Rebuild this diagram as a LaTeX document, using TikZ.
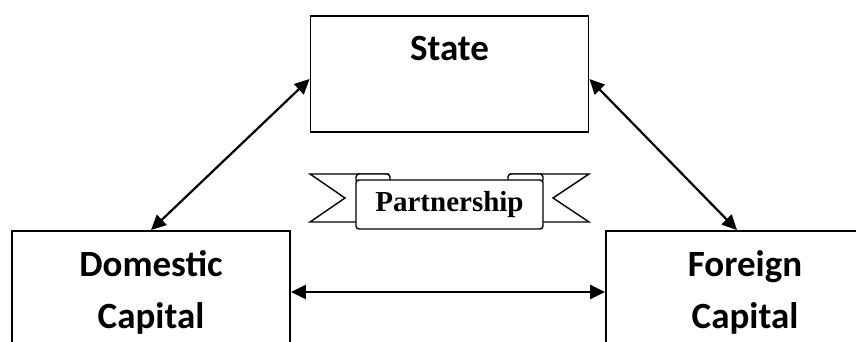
\documentclass[tikz,border=0pt]{standalone}
\usepackage{fontspec}
\setmainfont{Carlito}
\newfontfamily\ribbonfont{Liberation Serif}
\usepackage{tikz}
\usetikzlibrary{arrows.meta, positioning, calc}

\begin{document}
\begin{tikzpicture}[x=1pt, y=1pt,
    capbox/.style={draw=black, line width=1.8pt, minimum width=278pt, minimum height=122pt,
                   align=center, font=\fontsize{37}{52}\selectfont\bfseries},
    linkarrow/.style={line width=2.2pt,
                   {Triangle[length=15pt,width=14pt]}-{Triangle[length=15pt,width=14pt]}},
    ribbonpart/.style={draw=black, fill=white, line width=1.4pt}]
    \clip (0,0) rectangle (856,342);

    % the three actors
    \node[capbox, minimum height=116pt] (state) at (449.5,268) {State\\~};
    \node[capbox] (dom) at (151,50) {Domestic\\Capital};
    \node[capbox] (foreign) at (745,50) {Foreign\\Capital};

    % links
    \draw[linkarrow] (dom.north) -- ([yshift=-5pt]state.west);
    \draw[linkarrow] ([yshift=-5pt]state.east) -- ([xshift=-8pt]foreign.north);
    \draw[linkarrow] (dom.east) -- (foreign.west);

    % ribbon
    \draw[ribbonpart, line join=miter] (310,168) -- (388,168) -- (388,120) -- (310,120) -- (345,144) -- cycle;
    \draw[ribbonpart, line join=miter] (589,168) -- (510,168) -- (510,120) -- (589,120) -- (553,144) -- cycle;
    \draw[ribbonpart, rounded corners=3pt] (356,159) rectangle (390,168);
    \draw[ribbonpart, rounded corners=3pt] (508,159) rectangle (543,168);
    \node[ribbonpart, rounded corners=3pt, minimum width=187pt, minimum height=49pt,
          font=\ribbonfont\fontsize{29}{32}\selectfont\bfseries] (partner) at (449.5,137.5) {Partnership};
\end{tikzpicture}
\end{document}
